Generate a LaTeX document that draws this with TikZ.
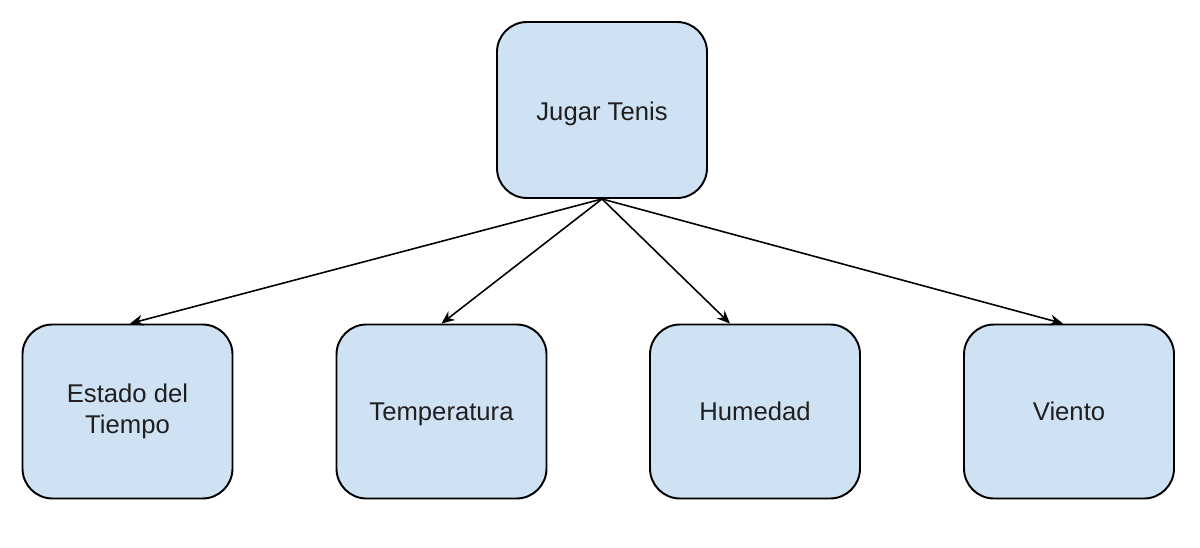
\documentclass[tikz,border=0pt]{standalone}
\usepackage{fontspec}
\setmainfont{Liberation Sans}
\usetikzlibrary{arrows.meta}
\definecolor{boxfill}{HTML}{CFE2F3}
\definecolor{boxtext}{HTML}{1F1F1F}
\tikzset{
	caja/.style={draw=black, fill=boxfill, line width=1.1pt, rounded corners=0.6cm,
		minimum width=4.2cm, minimum height=3.48cm, align=center,
		text=boxtext, font=\fontsize{14.6}{18}\selectfont},
	flecha/.style={-{Stealth[length=2.6mm,width=2.2mm]}, line width=0.9pt}
}
\begin{document}
\begin{tikzpicture}
	\useasboundingbox (0,0) rectangle (24,-10.94);
	\node[caja, minimum height=3.52cm] (J) at (12.04,-2.2) {\raisebox{-0.08cm}[\height][\depth]{Jugar Tenis}};
	\node[caja] (E) at (2.55,-8.23) {Estado del\\Tiempo};
	\node[caja] (T) at (8.83,-8.23) {\raisebox{-0.06cm}[\height][\depth]{Temperatura}};
	\node[caja] (H) at (15.1,-8.23) {Humedad};
	\node[caja] (V) at (21.38,-8.23) {Viento};
	\draw[flecha] (J.south) -- ([xshift=0.05cm]E.north);
	\draw[flecha] (J.south) -- (T.north);
	\draw[flecha] (J.south) -- ([xshift=-0.5cm]H.north);
	\draw[flecha] (J.south) -- ([xshift=-0.12cm]V.north);
\end{tikzpicture}
\end{document}
